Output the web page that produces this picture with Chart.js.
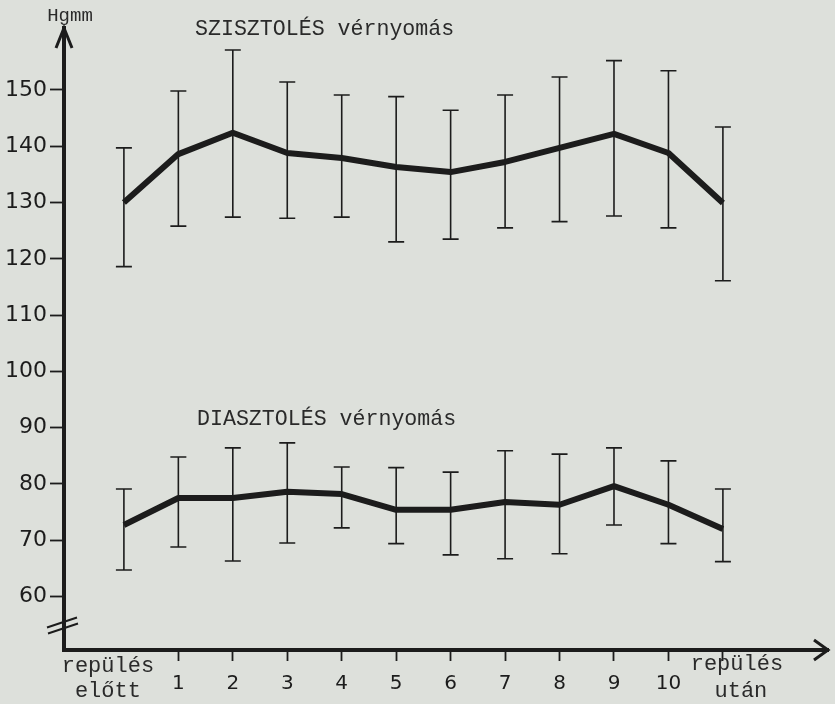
<!DOCTYPE html>
<html>
<head>
<meta charset="utf-8">
<script src="https://cdn.jsdelivr.net/npm/chart.js@4.4.0/dist/chart.umd.min.js"></script>
<style>
  body { margin: 0; background: #dde0db; }
  #wrap { width: 835px; height: 704px; }
</style>
</head>
<body>
<div id="wrap"><canvas id="myChart" width="835" height="704"></canvas></div>
<script>
const categories = ['repülés előtt', '1', '2', '3', '4', '5', '6', '7', '8', '9', '10', 'repülés után'];

// szisztolés
const sysMean = [130, 138.6, 142.4, 138.8, 137.9, 136.3, 135.4, 137.2, 139.7, 142.2, 138.8, 129.9];
const sysHigh = [139.7, 149.8, 157.1, 151.4, 149.1, 148.8, 146.4, 149.1, 152.3, 155.2, 153.4, 143.4];
const sysLow = [118.6, 125.8, 127.4, 127.2, 127.4, 123, 123.5, 125.5, 126.6, 127.6, 125.5, 116.1];

// diasztolés
const diaMean = [72.7, 77.5, 77.5, 78.6, 78.2, 75.4, 75.4, 76.8, 76.3, 79.6, 76.3, 72.0];
const diaHigh = [79.1, 84.8, 86.4, 87.3, 83.0, 82.9, 82.1, 85.9, 85.3, 86.4, 84.1, 79.1];
const diaLow = [64.7, 68.8, 66.3, 69.5, 72.2, 69.4, 67.4, 66.7, 67.6, 72.7, 69.4, 66.2];

const yTicks = [60, 70, 80, 90, 100, 110, 120, 130, 140, 150];

const ink = '#1c1c1c';
const mono = '"Liberation Mono", "DejaVu Sans Mono", monospace';

function toPoints(arr) {
  return arr.map((v, i) => ({ x: i, y: v }));
}

const paper = {
  id: 'paper',
  beforeDraw(chart) {
    const c = chart.ctx;
    c.save();
    c.fillStyle = '#dde0db';
    c.fillRect(0, 0, chart.width, chart.height);
    c.restore();
  }
};

// hibasávok a skálákon keresztül
const errorBars = {
  id: 'errorBars',
  beforeDatasetsDraw(chart) {
    const c = chart.ctx;
    const x = chart.scales.x, y = chart.scales.y;
    const sets = [[sysLow, sysHigh], [diaLow, diaHigh]];
    c.save();
    c.strokeStyle = ink;
    c.lineWidth = 1.6;
    sets.forEach(([lo, hi]) => {
      lo.forEach((v, i) => {
        const px = x.getPixelForValue(i);
        const y1 = y.getPixelForValue(v);
        const y2 = y.getPixelForValue(hi[i]);
        c.beginPath();
        c.moveTo(px, y1); c.lineTo(px, y2);
        c.moveTo(px - 8, y1); c.lineTo(px + 8, y1);
        c.moveTo(px - 8, y2); c.lineTo(px + 8, y2);
        c.stroke();
      });
    });
    c.restore();
  }
};

const extras = {
  id: 'extras',
  afterDraw(chart) {
    const c = chart.ctx;
    const x = chart.scales.x, y = chart.scales.y;
    const area = chart.chartArea;
    c.save();
    c.strokeStyle = ink;
    c.fillStyle = '#2a2a2a';
    c.lineWidth = 3;

    // nyilak
    c.beginPath();
    c.moveTo(area.left - 8, area.top + 20);
    c.lineTo(area.left, area.top);
    c.lineTo(area.left + 8, area.top + 20);
    c.moveTo(area.right - 14, area.bottom - 10);
    c.lineTo(area.right, area.bottom);
    c.lineTo(area.right - 14, area.bottom + 10);
    c.stroke();

    // tengelytörés
    const yb = y.getPixelForValue(55.2);
    c.lineWidth = 2;
    c.beginPath();
    c.moveTo(area.left - 17, yb + 4); c.lineTo(area.left + 13, yb - 6);
    c.moveTo(area.left - 16, yb + 10); c.lineTo(area.left + 14, yb);
    c.stroke();

    // feliratok
    c.textAlign = 'center';
    c.textBaseline = 'middle';
    c.font = '19px ' + mono;
    c.fillText('Hgmm', area.left + 6, 16);

    c.font = '21.6px ' + mono;
    c.textAlign = 'left';
    c.fillText('SZISZTOLÉS vérnyomás', 195, 29);
    c.fillText('DIASZTOLÉS vérnyomás', 197, 419);

    c.textAlign = 'center';
    c.font = '22px ' + mono;
    const bx = x.getPixelForValue(0) - 16;
    c.fillText('repülés', bx, 666);
    c.fillText('előtt', bx, 691);
    const ax = x.getPixelForValue(11) + 14;
    c.fillText('repülés', ax, 664);
    c.fillText('után', ax + 4, 691);
    c.restore();
  }
};

new Chart(document.getElementById('myChart').getContext('2d'), {
  type: 'line',
  data: {
    datasets: [
      {
        label: 'SZISZTOLÉS vérnyomás',
        data: toPoints(sysMean),
        borderColor: ink,
        borderWidth: 6,
        pointRadius: 0,
        tension: 0,
        borderJoinStyle: 'round'
      },
      {
        label: 'DIASZTOLÉS vérnyomás',
        data: toPoints(diaMean),
        borderColor: ink,
        borderWidth: 6,
        pointRadius: 0,
        tension: 0,
        borderJoinStyle: 'round'
      }
    ]
  },
  options: {
    responsive: false,
    animation: false,
    layout: { padding: { top: 28, right: 7, left: 0, bottom: 0 } },
    plugins: {
      legend: { display: false },
      tooltip: { enabled: false }
    },
    scales: {
      x: {
        type: 'linear',
        min: -1.1,
        max: 12.93,
        afterFit: s => { s.height = 54; },
        afterBuildTicks: s => { s.ticks = categories.map((c, i) => ({ value: i })); },
        border: { display: true, color: ink, width: 4 },
        grid: {
          drawOnChartArea: false,
          tickLength: 11,
          tickWidth: 1.8,
          tickColor: ctx => (ctx.index === 0 || ctx.tick === undefined) ? 'rgba(0,0,0,0)' : ink
        },
        ticks: {
          color: ink,
          padding: 11,
          maxRotation: 0,
          autoSkip: false,
          font: { family: '"DejaVu Sans", sans-serif', size: 20 },
          callback: (v) => (v >= 1 && v <= 10) ? categories[v] : ''
        }
      },
      y: {
        type: 'linear',
        min: 50.5,
        max: 161,
        afterFit: s => { s.width = 64; },
        afterBuildTicks: s => { s.ticks = yTicks.map(v => ({ value: v })); },
        border: { display: true, color: ink, width: 4 },
        grid: {
          drawOnChartArea: false,
          tickLength: 14,
          tickWidth: 1.8,
          tickColor: ink
        },
        ticks: {
          color: ink,
          padding: 3,
          font: { family: '"DejaVu Sans", sans-serif', size: 22 },
          callback: v => String(v)
        }
      }
    }
  },
  plugins: [paper, errorBars, extras]
});
</script>
</body>
</html>
